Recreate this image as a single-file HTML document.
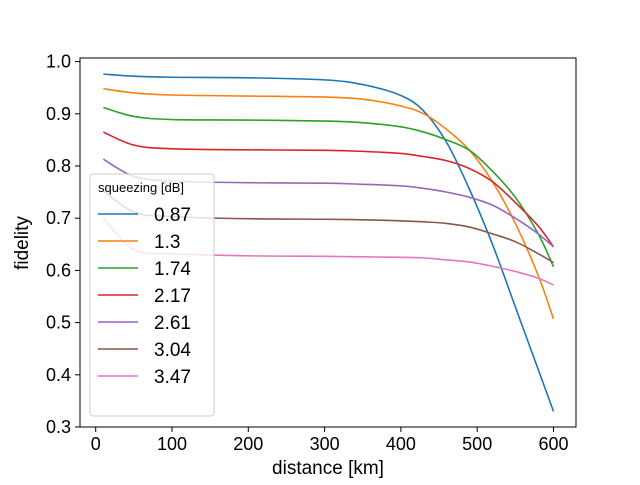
<!DOCTYPE html>
<html><head><meta charset="utf-8"><style>body{margin:0;background:#fff}svg{font-family:"Liberation Sans","DejaVu Sans",sans-serif}</style></head>
<body>
<svg id="chart" width="640" height="480">
<rect x="80" y="58" width="496" height="369" fill="none" stroke="#000" stroke-width="1"/>
<g id="xticks"></g><g id="yticks"></g><g id="series"></g>
<text x="328" y="474" text-anchor="middle" font-size="19">distance [km]</text>
<text transform="translate(28,243) rotate(-90)" text-anchor="middle" font-size="19">fidelity</text>
<g id="legend">
<rect x="90" y="174" width="124" height="242" rx="3" fill="#fff" fill-opacity="0.8" stroke="#ccc"/>
<text x="98" y="192" font-size="13">squeezing [dB]</text>
</g>
</svg>
<script>
const xs=[10,50,100,200,300,350,400,430,460,490,520,550,580,600];
const labels=["0.87","1.3","1.74","2.17","2.61","3.04","3.47"];
const colors=["#1f77b4","#ff7f0e","#2ca02c","#d62728","#9467bd","#8c564b","#e377c2"];
const s087=[0.976,0.972,0.970,0.969,0.965,0.956,0.935,0.905,0.845,0.755,0.65,0.53,0.41,0.33];
const s130=[0.948,0.940,0.936,0.934,0.932,0.928,0.915,0.90,0.87,0.83,0.77,0.69,0.59,0.507];
const s174=[0.912,0.895,0.889,0.888,0.886,0.883,0.875,0.865,0.85,0.83,0.79,0.74,0.67,0.607];
const s217=[0.865,0.840,0.833,0.831,0.830,0.828,0.824,0.818,0.81,0.795,0.77,0.73,0.685,0.645];
const s261=[0.813,0.780,0.771,0.768,0.767,0.765,0.762,0.757,0.75,0.74,0.725,0.70,0.67,0.645];
const s304=[0.753,0.712,0.703,0.699,0.698,0.697,0.695,0.693,0.69,0.683,0.67,0.655,0.632,0.615];
const s347=[0.70,0.64,0.632,0.628,0.627,0.626,0.625,0.624,0.62,0.616,0.608,0.598,0.585,0.572];
const series=[s087,s130,s174,s217,s261,s304,s347];
const xTicks=[0,100,200,300,400,500,600];
const yTicks=[0.3,0.4,0.5,0.6,0.7,0.8,0.9,1.0];
const NS="http://www.w3.org/2000/svg";
const X=v=>95.7+v*0.763, Y=v=>427-(v-0.3)*522;
function mk(t,a,p){const e=document.createElementNS(NS,t);for(const k in a)e.setAttribute(k,a[k]);p.appendChild(e);return e;}
const xt=document.getElementById('xticks');
xTicks.forEach(v=>{const l=mk('line',{x1:X(v),x2:X(v),y1:427,y2:432,stroke:'#000'},xt);


const t=mk('text',{x:X(v),y:450,'text-anchor':'middle','font-size':'18'},xt);t.textContent=v;

});
const yt=document.getElementById('yticks');
yTicks.forEach(v=>{const l=mk('line',{x1:75,x2:80,y1:Y(v),y2:Y(v),stroke:'#000'},yt);


const t=mk('text',{x:71,y:Y(v)+6,'text-anchor':'end','font-size':'18'},yt);t.textContent=v.toFixed(1);

});
function path(ys){const p=xs.map((x,i)=>[X(x),Y(ys[i])]);let d='M'+p[0];
for(let i=0;i<p.length-1;i++){const p0=p[i-1]||p[i],p1=p[i],p2=p[i+1],p3=p[i+2]||p2;
d+=' C'+(p1[0]+(p2[0]-p0[0])/6)+','+(p1[1]+(p2[1]-p0[1])/6)+' '+(p2[0]-(p3[0]-p1[0])/6)+','+(p2[1]-(p3[1]-p1[1])/6)+' '+p2;}return d;}
const sg=document.getElementById('series'),lg=document.getElementById('legend');
series.forEach((ys,i)=>{const p=mk('path',{d:path(ys),fill:'none',stroke:colors[i],'stroke-width':'1.6'},sg);


const y=214+i*27;
const l=mk('line',{x1:98,x2:138,y1:y,y2:y,stroke:colors[i],'stroke-width':'1.6'},lg);


const t=mk('text',{x:154,y:y+7,'font-size':'19'},lg);t.textContent=labels[i];

});
</script>
</body></html>
